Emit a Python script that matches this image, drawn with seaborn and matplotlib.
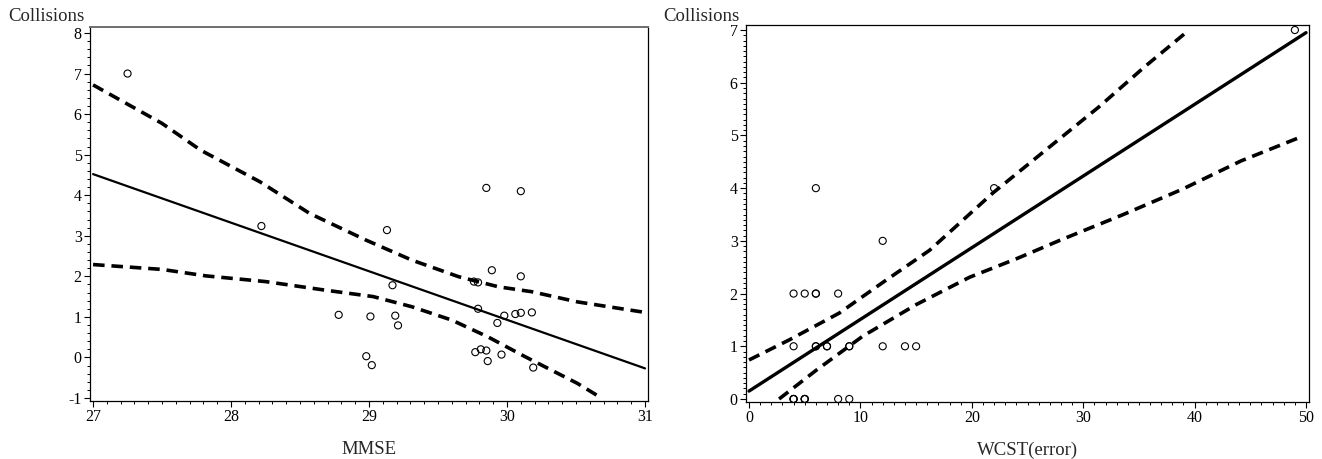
import numpy as np
import pandas as pd
import matplotlib
matplotlib.use("Agg")
import matplotlib.pyplot as plt
from matplotlib.ticker import MultipleLocator
import seaborn as sns

sns.set_theme(style="ticks")
plt.rcParams['font.family'] = ['Liberation Serif', 'DejaVu Serif']
plt.rcParams['axes.unicode_minus'] = False

# left panel: MMSE vs collisions (points are jittered in the original)
mmse = [27.25, 28.22, 29.13, 29.17, 28.78, 29.01, 29.19, 29.21, 28.98, 29.02,
        29.85, 30.10, 29.89, 30.10, 29.76, 29.79, 29.79, 29.98, 29.93, 30.06,
        30.10, 30.18, 29.77, 29.81, 29.85, 29.86, 29.96, 30.19]
coll_mmse = [7.00, 3.24, 3.14, 1.78, 1.05, 1.01, 1.03, 0.79, 0.03, -0.19,
             4.18, 4.10, 2.15, 2.00, 1.87, 1.85, 1.20, 1.03, 0.85, 1.07,
             1.10, 1.11, 0.13, 0.20, 0.17, -0.09, 0.07, -0.25]
fit_mmse_x = [27, 31]
fit_mmse_y = [4.52, -0.27]
upper_mmse_x = [27.0, 27.5, 27.78, 28.21, 28.57, 28.98, 29.31, 29.65, 29.94, 30.18, 30.51, 31.0]
upper_mmse_y = [6.72, 5.77, 5.11, 4.33, 3.55, 2.89, 2.40, 1.99, 1.74, 1.62, 1.37, 1.11]
lower_mmse_x = [27.0, 27.5, 27.82, 28.25, 28.68, 29.03, 29.31, 29.60, 29.86, 30.13, 30.51, 30.65]
lower_mmse_y = [2.29, 2.17, 2.01, 1.87, 1.66, 1.50, 1.25, 0.92, 0.51, 0.02, -0.64, -0.93]

# right panel: WCST errors vs collisions
wcst = [4, 4, 4, 5, 5, 5, 8, 9,
        4, 6, 6, 7, 7, 9, 9, 12, 14, 15,
        4, 5, 6, 6, 8,
        12, 6, 22, 49]
coll_wcst = [0, 0, 0, 0, 0, 0, 0, 0,
             1, 1, 1, 1, 1, 1, 1, 1, 1, 1,
             2, 2, 2, 2, 2,
             3, 4, 4, 7]
fit_wcst_x = [0, 50]
fit_wcst_y = [0.15, 6.95]
upper_wcst_x = [0, 3.6, 8.1, 12.0, 16.2, 21.9, 27.9, 31.4, 35.5, 39.5]
upper_wcst_y = [0.74, 1.12, 1.63, 2.21, 2.82, 3.91, 4.94, 5.54, 6.30, 7.00]
lower_wcst_x = [2.7, 6.0, 10.2, 15.0, 19.8, 24.0, 27.9, 33.6, 38.9, 44.2, 49.4]
lower_wcst_y = [0.0, 0.54, 1.19, 1.79, 2.31, 2.66, 3.01, 3.50, 3.98, 4.52, 4.96]

fig = plt.figure(figsize=(13.22, 4.59), dpi=100)
ax1 = fig.add_axes([0.0681, 0.1264, 0.4221, 0.8148])
ax2 = fig.add_axes([0.5643, 0.1242, 0.4259, 0.8213])

dash = (0, (3.2, 1.9))


def draw_panel(ax, x, y, fx, fy, ux, uy, lx, ly, fit_lw):
    sns.scatterplot(x=x, y=y, ax=ax, marker='o', s=26, facecolor='none',
                    edgecolor='black', linewidth=0.8)
    sns.lineplot(x=fx, y=fy, ax=ax, color='black', linewidth=fit_lw, errorbar=None)
    sns.lineplot(x=ux, y=uy, ax=ax, color='black', linewidth=2.6, linestyle=dash, errorbar=None)
    sns.lineplot(x=lx, y=ly, ax=ax, color='black', linewidth=2.6, linestyle=dash, errorbar=None)
    for side in ['top', 'right', 'left', 'bottom']:
        ax.spines[side].set_visible(True)
        ax.spines[side].set_color('black')
        ax.spines[side].set_linewidth(0.9)
    ax.tick_params(which='major', direction='out', length=4, width=0.8,
                   labelsize=11.5, colors='black', pad=2)
    ax.tick_params(which='minor', direction='out', length=2.2, width=0.7, colors='black')
    ax.set_ylabel('')


draw_panel(ax1, mmse, coll_mmse, fit_mmse_x, fit_mmse_y,
           upper_mmse_x, upper_mmse_y, lower_mmse_x, lower_mmse_y, 1.6)
ax1.set_xlim(26.978, 31.022)
ax1.set_ylim(-1.074, 8.148)
ax1.xaxis.set_major_locator(MultipleLocator(1))
ax1.xaxis.set_minor_locator(MultipleLocator(0.1))
ax1.yaxis.set_major_locator(MultipleLocator(1))
ax1.yaxis.set_minor_locator(MultipleLocator(0.2))
ax1.spines['top'].set_color('#6e6e6e')
ax1.spines['top'].set_linewidth(1.4)
ax1.set_xlabel('MMSE', fontsize=13.5, labelpad=11)

draw_panel(ax2, wcst, coll_wcst, fit_wcst_x, fit_wcst_y,
           upper_wcst_x, upper_wcst_y, lower_wcst_x, lower_wcst_y, 2.4)
ax2.set_xlim(-0.27, 50.27)
ax2.set_ylim(-0.057, 7.095)
ax2.xaxis.set_major_locator(MultipleLocator(10))
ax2.xaxis.set_minor_locator(MultipleLocator(1))
ax2.yaxis.set_major_locator(MultipleLocator(1))
ax2.yaxis.set_minor_locator(MultipleLocator(0.1))
ax2.set_xlabel('WCST(error)', fontsize=13.5, labelpad=11)

fig.text(8 / 1322, 1 - 21 / 459, 'Collisions', fontsize=13.5, ha='left', va='baseline')
fig.text(663 / 1322, 1 - 21 / 459, 'Collisions', fontsize=13.5, ha='left', va='baseline')

fig.savefig('out.png', dpi=100)
